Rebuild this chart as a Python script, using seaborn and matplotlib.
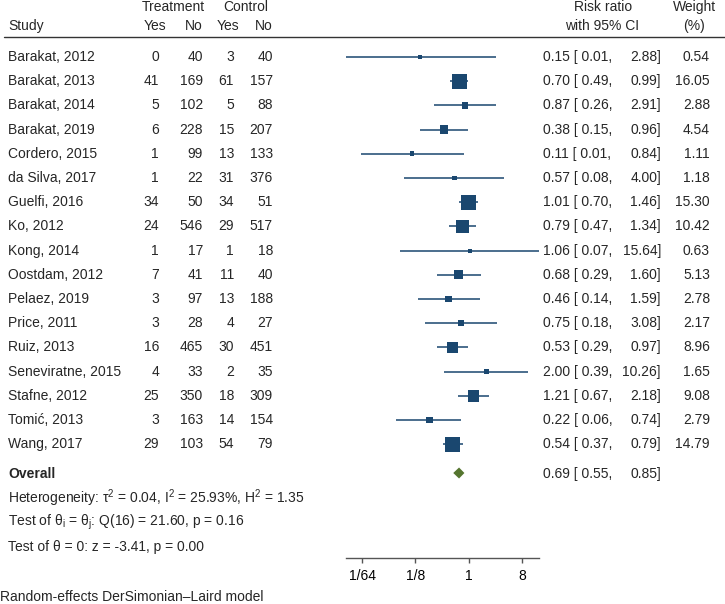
import numpy as np
import pandas as pd
import matplotlib
matplotlib.use("Agg")
import matplotlib.pyplot as plt
import seaborn as sns

# study level data
studies = ["Barakat, 2012", "Barakat, 2013", "Barakat, 2014", "Barakat, 2019",
           "Cordero, 2015", "da Silva, 2017", "Guelfi, 2016", "Ko, 2012",
           "Kong, 2014", "Oostdam, 2012", "Pelaez, 2019", "Price, 2011",
           "Ruiz, 2013", "Seneviratne, 2015", "Stafne, 2012", "Tomić, 2013",
           "Wang, 2017"]
treat_yes = [0, 41, 5, 6, 1, 1, 34, 24, 1, 7, 3, 3, 16, 4, 25, 3, 29]
treat_no = [40, 169, 102, 228, 99, 22, 50, 546, 17, 41, 97, 28, 465, 33, 350, 163, 103]
ctrl_yes = [3, 61, 5, 15, 13, 31, 34, 29, 1, 11, 13, 4, 30, 2, 18, 14, 54]
ctrl_no = [40, 157, 88, 207, 133, 376, 51, 517, 18, 40, 188, 27, 451, 35, 309, 154, 79]
rr = [0.15, 0.70, 0.87, 0.38, 0.11, 0.57, 1.01, 0.79, 1.06, 0.68, 0.46, 0.75,
      0.53, 2.00, 1.21, 0.22, 0.54]
ci_lo = [0.0082, 0.49, 0.26, 0.15, 0.0149, 0.08, 0.70, 0.47, 0.07, 0.29, 0.14,
         0.18, 0.29, 0.39, 0.67, 0.06, 0.37]
ci_hi = [2.88, 0.99, 2.91, 0.96, 0.84, 4.00, 1.46, 1.34, 15.64, 1.60, 1.59,
         3.08, 0.97, 10.26, 2.18, 0.74, 0.79]
weight = [0.54, 16.05, 2.88, 4.54, 1.11, 1.18, 15.30, 10.42, 0.63, 5.13, 2.78,
          2.17, 8.96, 1.65, 9.08, 2.79, 14.79]

overall_rr, overall_lo, overall_hi = 0.69, 0.55, 0.85
xtick_vals = [1 / 64, 1 / 8, 1, 8]
xtick_labels = ["1/64", "1/8", "1", "8"]

navy = "#1a476f"
green = "#55752f"

sns.set_style("white")
plt.rcParams["font.family"] = ["Liberation Sans", "DejaVu Sans"]
plt.rcParams["mathtext.fontset"] = "custom"
plt.rcParams["mathtext.rm"] = "Liberation Sans"
plt.rcParams["mathtext.it"] = "Liberation Sans"
plt.rcParams["mathtext.bf"] = "Liberation Sans:bold"

W, H = 725, 604
fig = plt.figure(figsize=(W / 100, H / 100), dpi=100)

# text layer in pixel coordinates
tx = fig.add_axes([0, 0, 1, 1])
tx.set_xlim(0, W)
tx.set_ylim(H, 0)
tx.axis("off")

row_y = 57 + 24.2 * np.arange(len(studies))
overall_y = 473
axis_y = 558

df = pd.DataFrame({"study": studies, "rr": rr, "lo": ci_lo, "hi": ci_hi,
                   "weight": weight, "y": row_y})

# forest panel
ax = fig.add_axes([345.5 / W, (H - axis_y) / H, 193.5 / W, axis_y / H])
ax.set_facecolor("none")
ax.hlines(df["y"], df["lo"], df["hi"], color=navy, lw=1.1, zorder=2)
sns.scatterplot(data=df, x="rr", y="y", size="weight", sizes=(7.3, 121),
                marker="s", color=navy, linewidth=0, legend=False, ax=ax, zorder=3)
ax.fill([overall_lo, overall_rr, overall_hi, overall_rr],
        [overall_y, overall_y - 5.5, overall_y, overall_y + 5.5],
        color=green, lw=0, zorder=3)
ax.set_xscale("log", base=2)
ax.set_xlim(min(ci_lo), max(ci_hi))
ax.set_ylim(axis_y, 0)
ax.set_xticks(xtick_vals)
ax.set_xticklabels(xtick_labels, fontsize=10)
ax.minorticks_off()
ax.set_yticks([])
ax.set_xlabel("")
ax.set_ylabel("")
for s in ["top", "left", "right"]:
    ax.spines[s].set_visible(False)
ax.spines["bottom"].set_color("#555555")
ax.spines["bottom"].set_linewidth(1.0)
ax.tick_params(axis="x", bottom=True, length=3.6, width=1.0, color="#555555",
               pad=4, labelcolor="black")

fs = 10
# header
tx.text(173, 7, "Treatment", ha="center", va="center", fontsize=fs)
tx.text(246, 7, "Control", ha="center", va="center", fontsize=fs)
tx.text(603, 7, "Risk ratio", ha="center", va="center", fontsize=fs)
tx.text(695, 7, "Weight", ha="center", va="center", fontsize=fs)
tx.text(8, 26, "Study", ha="left", va="center", fontsize=fs)
for x, lab in zip([166, 203, 239, 273], ["Yes", "No", "Yes", "No"]):
    tx.text(x, 26, lab, ha="right", va="center", fontsize=fs)
tx.text(602, 26, "with 95% CI", ha="center", va="center", fontsize=fs)
tx.text(694, 26, "(%)", ha="center", va="center", fontsize=fs)
tx.plot([4, W], [37, 37], color="#333333", lw=1.0)

# study rows
for i, row in df.iterrows():
    y = row["y"]
    tx.text(8, y, row["study"], ha="left", va="center", fontsize=fs)
    for x, v in zip([159, 203, 234, 273],
                    [treat_yes[i], treat_no[i], ctrl_yes[i], ctrl_no[i]]):
        tx.text(x, y, str(v), ha="right", va="center", fontsize=fs)
    tx.text(543, y, f"{row['rr']:.2f} [ {row['lo']:.2f},", ha="left", va="center", fontsize=fs)
    tx.text(661, y, f"{row['hi']:.2f}]", ha="right", va="center", fontsize=fs)
    tx.text(710, y, f"{row['weight']:.2f}", ha="right", va="center", fontsize=fs)

# overall
tx.text(8, overall_y + 1, "Overall", ha="left", va="center", fontsize=fs, fontweight="bold")
tx.text(543, overall_y + 1, f"{overall_rr:.2f} [ {overall_lo:.2f},", ha="left", va="center", fontsize=fs)
tx.text(661, overall_y + 1, f"{overall_hi:.2f}]", ha="right", va="center", fontsize=fs)

tx.text(8, 498, r"Heterogeneity: τ$^2$ = 0.04, I$^2$ = 25.93%, H$^2$ = 1.35",
        ha="left", va="center", fontsize=fs)
tx.text(8, 522, r"Test of θ$_\mathrm{i}$ = θ$_\mathrm{j}$: Q(16) = 21.60, p = 0.16",
        ha="left", va="center", fontsize=fs)
tx.text(8, 547, "Test of θ = 0: z = -3.41, p = 0.00", ha="left", va="center", fontsize=fs)
tx.text(0, 597, "Random-effects DerSimonian–Laird model", ha="left", va="center", fontsize=fs)

fig.savefig("out.png", dpi=100)
